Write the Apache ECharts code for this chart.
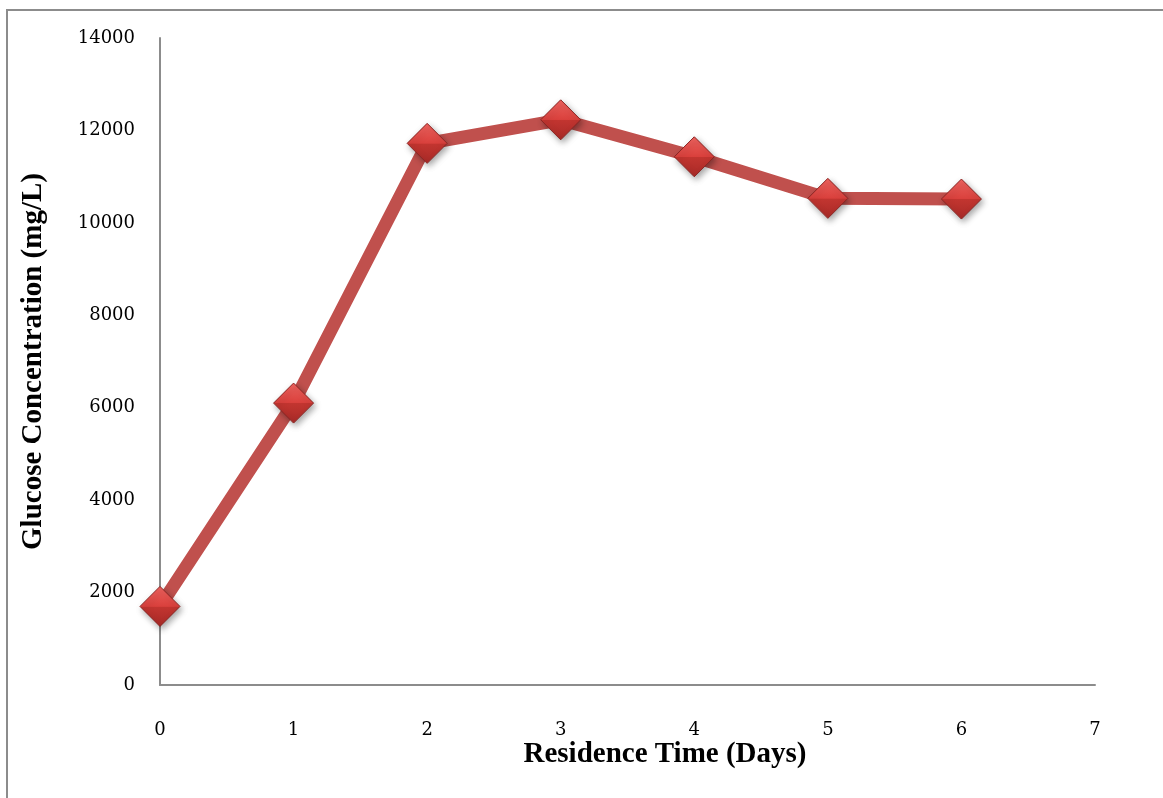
<!DOCTYPE html>
<html>
<head>
<meta charset="utf-8">
<script src="https://cdn.jsdelivr.net/npm/echarts@6/dist/echarts.min.js"></script>
<style>
html,body{margin:0;padding:0;background:#fff;}
#chart{width:1163px;height:798px;}
</style>
</head>
<body>
<div id="chart"></div>
<script>
const days = [0, 1, 2, 3, 4, 5, 6];
const glucose = [1700, 6100, 11720, 12230, 11430, 10530, 10515];
const xTicks = { min: 0, max: 7, interval: 1 };
const yTicks = { min: 0, max: 14000, interval: 2000 };
const xTitle = 'Residence Time (Days)';
const yTitle = 'Glucose Concentration (mg/L)';

const chart = echarts.init(document.getElementById('chart'));
const labelFont = { fontFamily: 'DejaVu Serif', fontSize: 18, color: '#000' };
chart.setOption({
  backgroundColor: '#fff',
  animation: false,
  grid: { left: 160, right: 68, top: 38, bottom: 113 },
  graphic: [
    { type: 'rect', shape: { x: 7, y: 10, width: 1170, height: 800 },
      style: { fill: 'none', stroke: '#8c8c8c', lineWidth: 2 }, silent: true, z: -1 },
    { type: 'text', x: 665, y: 755,
      style: { text: xTitle, font: 'bold 29px "Liberation Serif"', fill: '#000', textAlign: 'center', textVerticalAlign: 'middle' } }
  ],
  xAxis: {
    type: 'value', min: xTicks.min, max: xTicks.max, interval: xTicks.interval,
    axisLine: { show: true, lineStyle: { color: '#8c8c8c', width: 2 } },
    axisTick: { show: false },
    splitLine: { show: false },
    axisLabel: Object.assign({ margin: 36 }, labelFont)
  },
  yAxis: {
    type: 'value', min: yTicks.min, max: yTicks.max, interval: yTicks.interval,
    name: yTitle, nameLocation: 'middle', nameGap: 112, nameRotate: 90,
    nameTextStyle: { fontFamily: 'Liberation Serif', fontWeight: 'bold', fontSize: 29, color: '#000' },
    axisLine: { show: true, lineStyle: { color: '#8c8c8c', width: 2 } },
    axisTick: { show: false },
    splitLine: { show: false },
    axisLabel: Object.assign({ margin: 25, formatter: v => String(v) }, labelFont)
  },
  series: [{
    type: 'line',
    data: days.map((d, i) => [d, glucose[i]]),
    lineStyle: { color: '#c0504d', width: 13 },
    symbol: 'diamond',
    symbolSize: [40, 40],
    itemStyle: {
      color: new echarts.graphic.LinearGradient(0, 0, 0, 1, [
        { offset: 0, color: '#f06460' },
        { offset: 0.5, color: '#d9403c' },
        { offset: 0.51, color: '#c23530' },
        { offset: 1, color: '#a82a27' }
      ]),
      borderColor: '#8a2523',
      borderWidth: 1,
      shadowColor: 'rgba(0,0,0,0.35)',
      shadowBlur: 6,
      shadowOffsetX: 2,
      shadowOffsetY: 3
    },
    z: 3
  }]
});
</script>
</body>
</html>
